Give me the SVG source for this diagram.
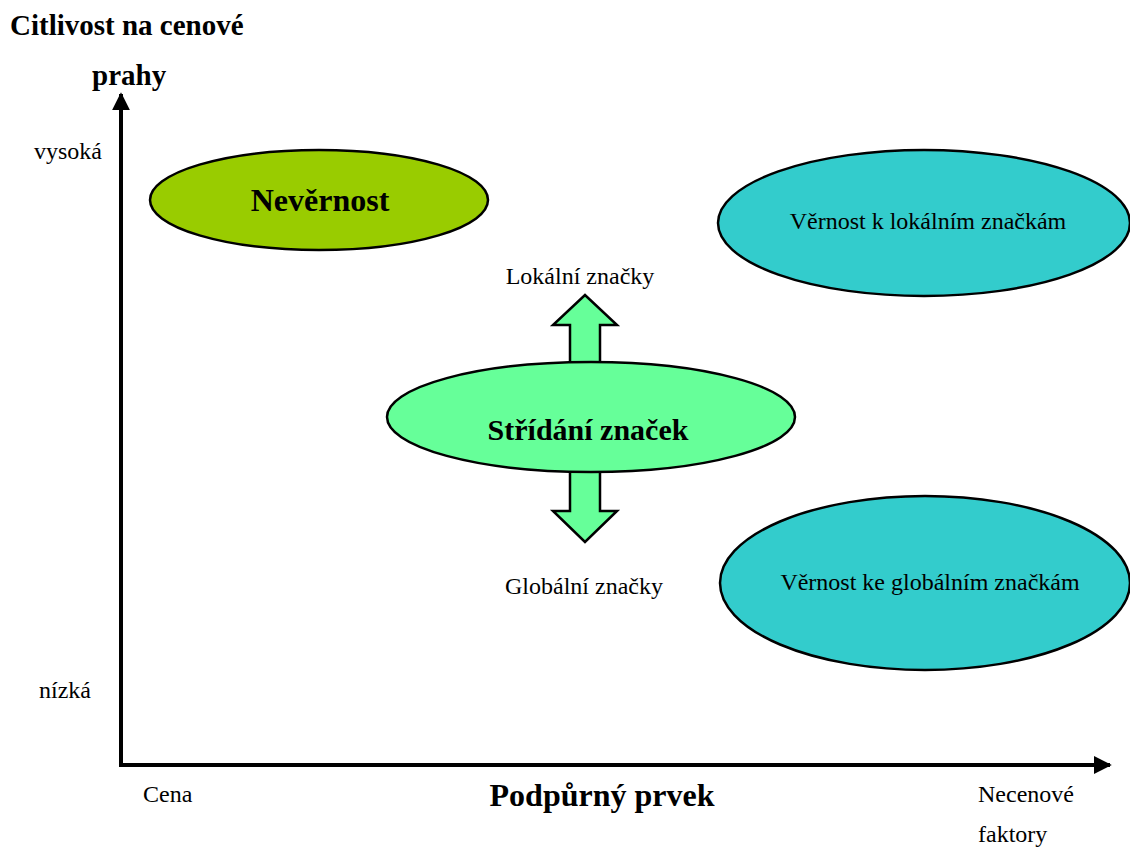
<svg xmlns="http://www.w3.org/2000/svg" width="1130" height="848" viewBox="0 0 1130 848">
<style>
text{font-family:"Liberation Serif","Times New Roman",serif;fill:#000}
.b{font-weight:bold}
.ell{stroke:#000;stroke-width:2.5}
.arr{fill:#66FF99;stroke:#000;stroke-width:2.5;stroke-linejoin:miter}
.ax{stroke:#000;stroke-width:4;fill:none}
</style>
<defs>
<marker id="ah" viewBox="0 0 10 10" refX="9" refY="5" markerWidth="4.5" markerHeight="4.5" orient="auto" markerUnits="strokeWidth">
<path d="M0,0 L10,5 L0,10 Z" fill="#000"/>
</marker>
</defs>
<rect width="1130" height="848" fill="#fff"/>
<g id="axes">
<line class="ax" x1="121" y1="767" x2="121" y2="94" marker-end="url(#ah)"/>
<line class="ax" x1="119" y1="765" x2="1110" y2="765" marker-end="url(#ah)"/>
</g>
<g id="labels">
<text class="b" x="10" y="35" font-size="29">Citlivost na cenové</text>
<text class="b" x="92" y="85" font-size="29">prahy</text>
<text x="34" y="159" font-size="24">vysoká</text>
<text x="39" y="698" font-size="24">nízká</text>
<text x="143" y="802" font-size="24">Cena</text>
<text class="b" x="602" y="806" font-size="32" text-anchor="middle">Podpůrný prvek</text>
<text x="978" y="802" font-size="24">Necenové</text>
<text x="978" y="842" font-size="24">faktory</text>
</g>
<g id="connectors">
<polygon class="arr" points="570,365 570,325 553,325 585,295 617,325 600,325 600,365"/>
<polygon class="arr" points="570,470 570,511 553,511 585,542 617,511 600,511 600,470"/>
<text x="580" y="284" font-size="24" text-anchor="middle">Lokální značky</text>
<text x="584" y="594" font-size="24" text-anchor="middle">Globální značky</text>
</g>
<g id="nevernost">
<ellipse class="ell" cx="319" cy="200" rx="169" ry="50" fill="#99CC00"/>
<text class="b" x="320" y="211" font-size="32" text-anchor="middle">Nevěrnost</text>
</g>
<g id="stridani">
<ellipse class="ell" cx="591" cy="417" rx="204" ry="55" fill="#66FF99"/>
<text class="b" x="588" y="440" font-size="30" text-anchor="middle">Střídání značek</text>
</g>
<g id="lokalni">
<ellipse class="ell" cx="924" cy="223" rx="206" ry="73" fill="#33CCCC"/>
<text x="928" y="229" font-size="24" text-anchor="middle">Věrnost k lokálním značkám</text>
</g>
<g id="globalni">
<ellipse class="ell" cx="925" cy="583" rx="205" ry="87" fill="#33CCCC"/>
<text x="930" y="590" font-size="24" text-anchor="middle">Věrnost ke globálním značkám</text>
</g>
</svg>
